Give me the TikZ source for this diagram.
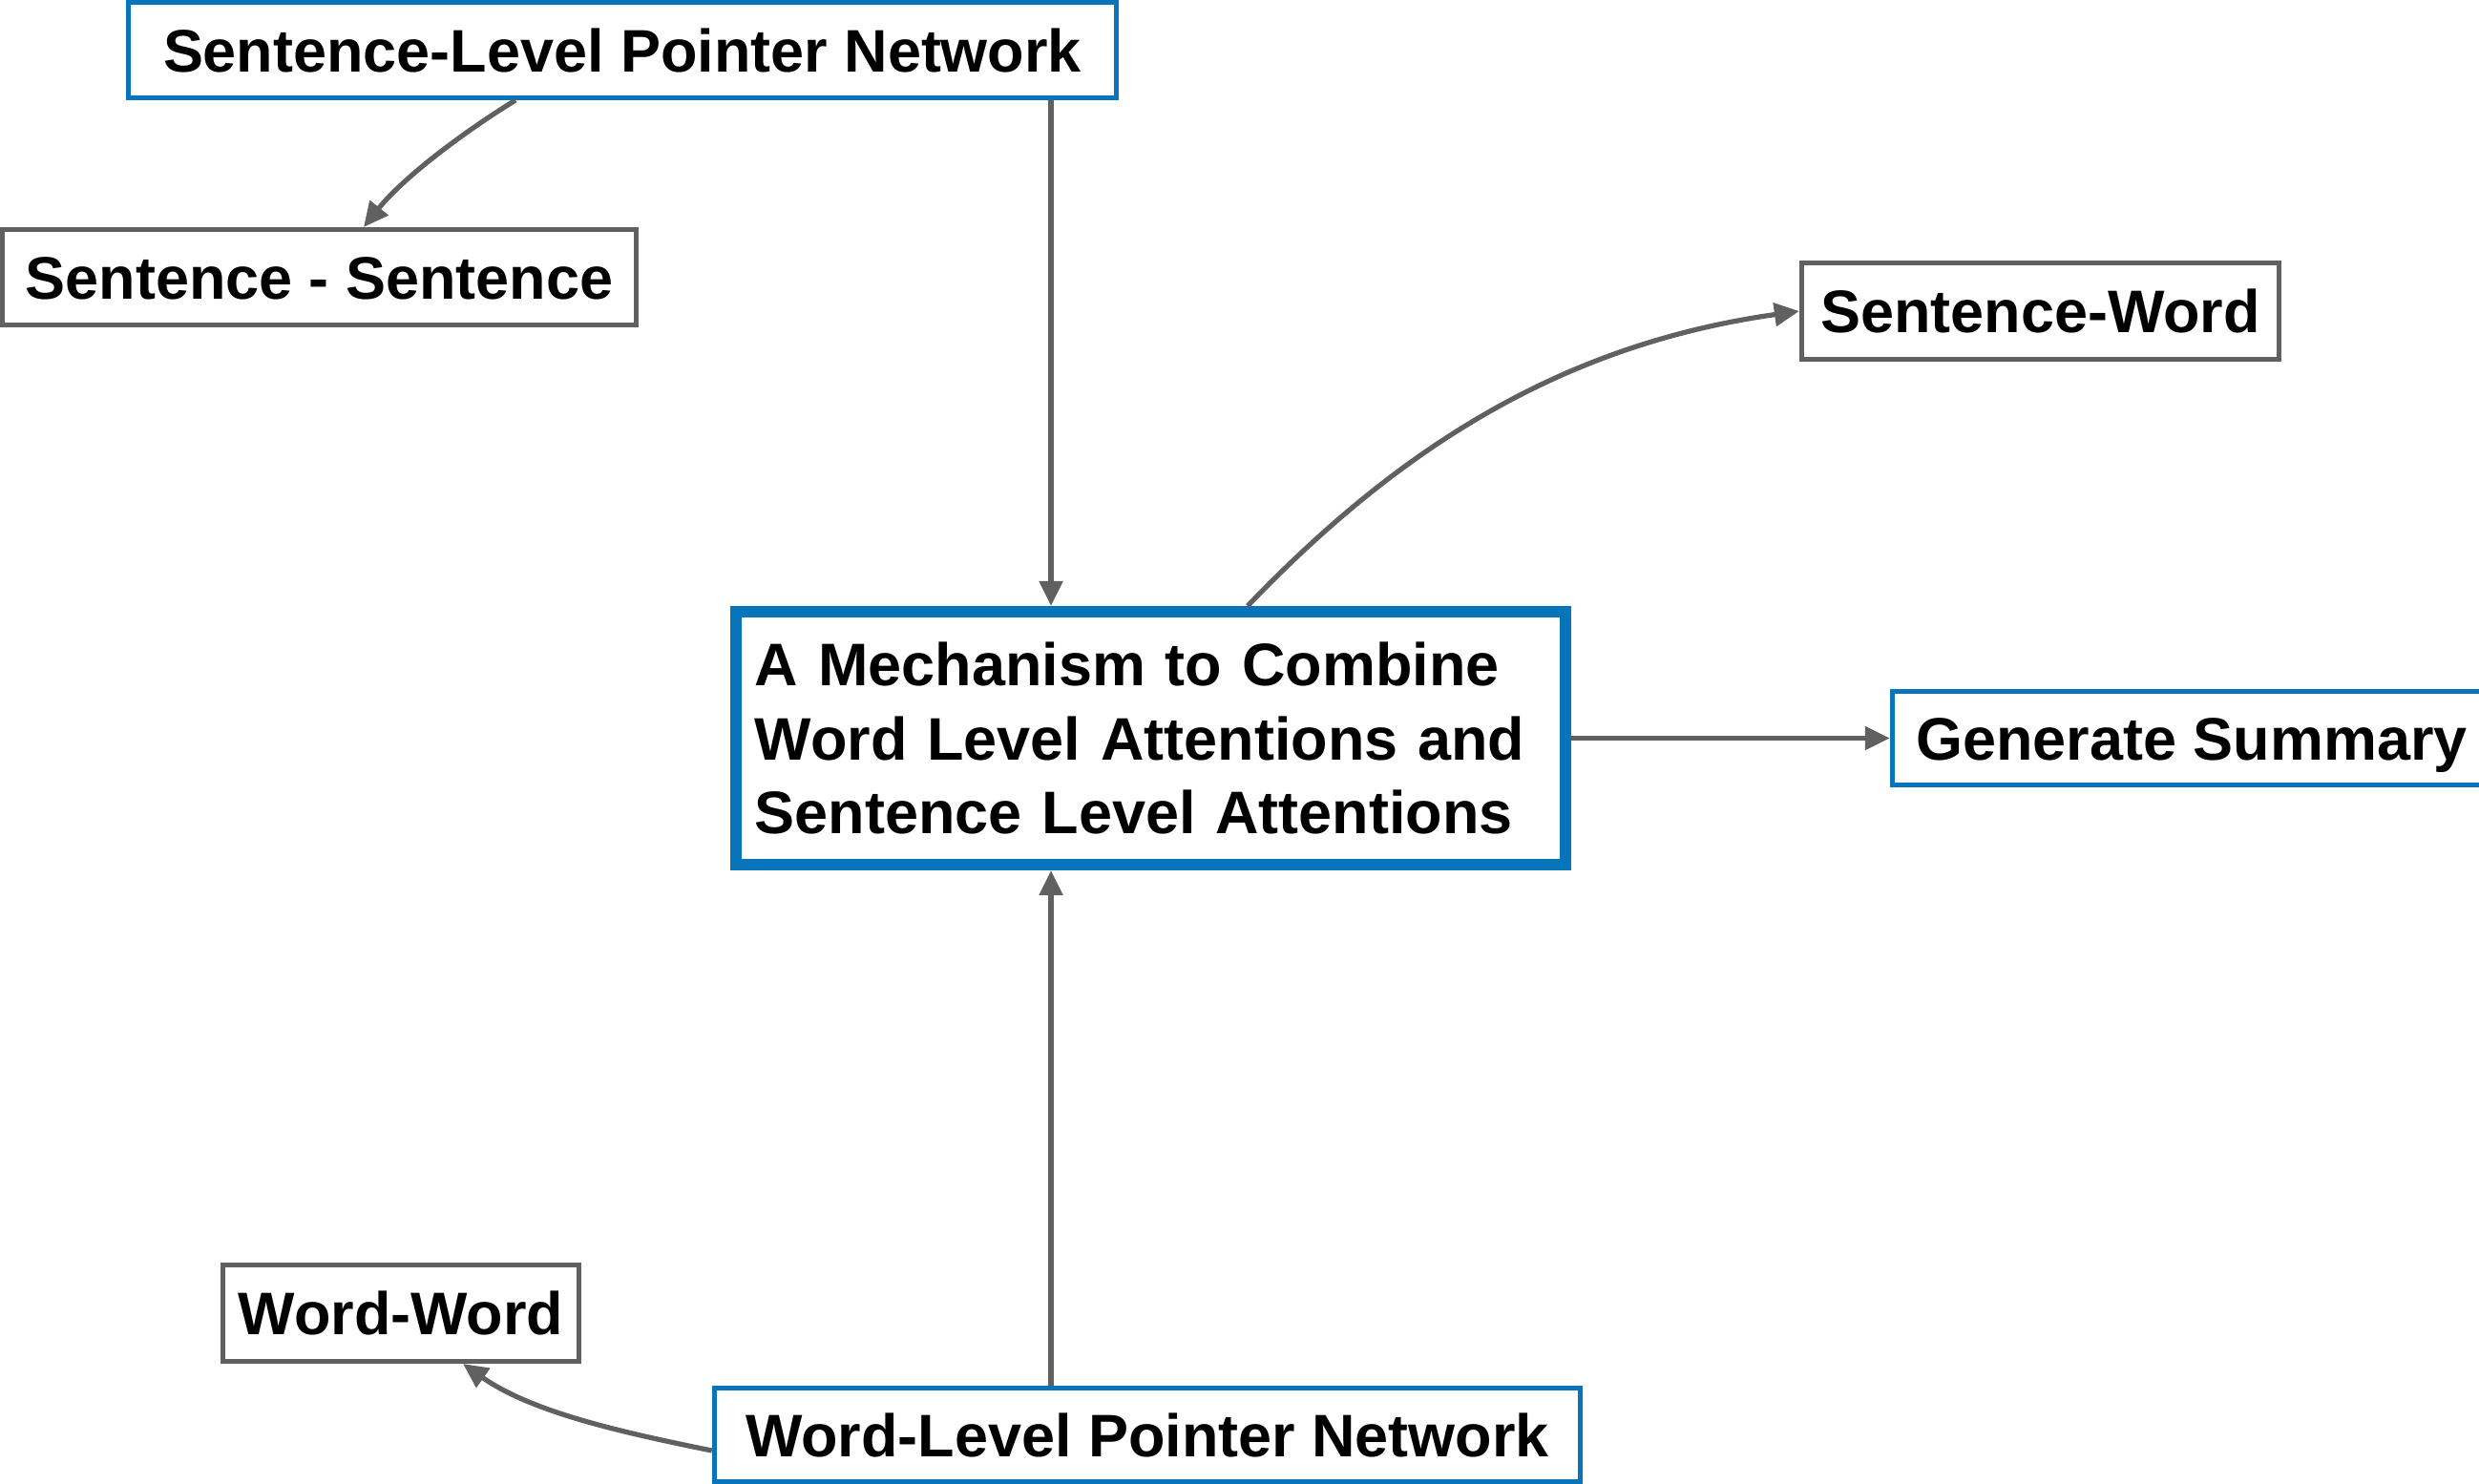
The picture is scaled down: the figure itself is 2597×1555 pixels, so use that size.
\documentclass[tikz,border=0pt]{standalone}
\usepackage{fontspec}
\setmainfont{Liberation Sans}
\usetikzlibrary{arrows.meta,calc}
\definecolor{bblue}{RGB}{8,116,186}
\definecolor{lgray}{RGB}{96,96,96}
\begin{document}
\begin{tikzpicture}[x=0.01cm,y=-0.01cm,
  box/.style={draw, line width=0.05cm, inner sep=0pt, text height=0.455cm, text depth=0cm,
              font=\fontsize{17.9pt}{22pt}\selectfont\bfseries, align=center},
  bluebox/.style={box, draw=bblue},
  graybox/.style={box, draw=lgray},
  conn/.style={draw=lgray, line width=0.052cm, -{Triangle[length=0.26cm,width=0.24cm]}}
]
\useasboundingbox (0,0) rectangle (2597,1555);

\node[bluebox, minimum width=10.35cm, minimum height=1cm] (slpn) at (652,52.5) {Sentence-Level Pointer Network};
\node[graybox, minimum width=6.64cm, minimum height=1cm] (ss) at (334.5,290.5) {Sentence - Sentence};
\node[graybox, minimum width=5cm, minimum height=1.01cm] (sw) at (2137.5,326) {Sentence-Word};
\node[draw=bblue, line width=0.12cm, minimum height=2.65cm, text width=8.29cm, inner xsep=0.2cm, inner ysep=0pt, align=left,
      font=\fontsize{17.9pt}{22pt}\selectfont\bfseries] (cen) at (1205.5,773.5)
  {A Mechanism to Combine\\Word Level Attentions and\\Sentence Level Attentions};
\node[bluebox, minimum width=6.27cm, minimum height=0.98cm] (gs) at (2296,773.5) {Generate Summary};
\node[graybox, minimum width=3.73cm, minimum height=1.01cm] (ww) at (420,1376) {Word-Word};
\node[bluebox, minimum width=9.07cm, minimum height=0.98cm] (wlpn) at (1202,1503.5) {Word-Level Pointer Network};

\coordinate (xv) at (1101,0);
\coordinate (x1) at (540,0);
\coordinate (x2) at (381,0);
\coordinate (x3) at (1307,0);
\coordinate (x4) at (485,0);
\coordinate (y6) at (0,1520);

\draw[conn] (slpn.south -| xv) -- (cen.north -| xv);
\draw[conn] (wlpn.north -| xv) -- (cen.south -| xv);
\draw[conn] (cen.east) -- (gs.west);
\draw[conn] (slpn.south -| x1) .. controls +(-60,37) and +(40,-50) .. (ss.north -| x2);
\draw[conn] (cen.north -| x3) .. controls +(159,-166) and +(-248,35) .. (sw.west);
\draw[conn] (wlpn.west |- y6) .. controls +(-88,-18) and +(74,52) .. (ww.south -| x4);
\end{tikzpicture}
\end{document}
